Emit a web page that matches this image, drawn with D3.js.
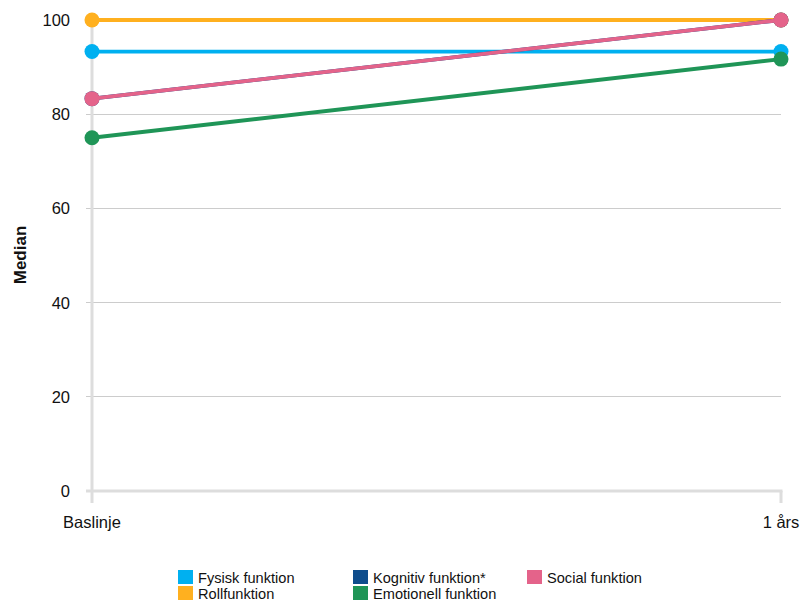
<!DOCTYPE html>
<html><head><meta charset="utf-8">
<script src="https://cdn.jsdelivr.net/npm/d3@7"></script>
<style>body{margin:0;background:#fff}svg{display:block;font-family:"Liberation Sans",Arial,sans-serif}</style>
</head><body><svg id="c" width="805" height="603"></svg>
<script>
const categories = ["Baslinje", "1 års"];
const seriesNames = ["Fysisk funktion", "Rollfunktion", "Kognitiv funktion*", "Emotionell funktion", "Social funktion"];
const seriesColors = ["#00b0f0", "#ffb01f", "#0e4d8c", "#1f9557", "#e4638a"];
const fysisk = [93.3, 93.3];
const roll = [100, 100];
const kognitiv = [83.3, 100];
const emotionell = [75, 91.7];
const social = [83.3, 100];
const yTicks = [0, 20, 40, 60, 80, 100];

const values = [fysisk, roll, kognitiv, emotionell, social];
const drawOrder = [0, 1, 2, 3, 4];

const svg = d3.select("#c");
const x = d3.scalePoint().domain(categories).range([92, 781]);
const y = d3.scaleLinear().domain([0, 100]).range([491, 20]);

// grid
svg.append("g").selectAll("line").data(yTicks.filter(d => d !== 0)).join("line")
  .attr("x1", 86).attr("x2", 781).attr("y1", d => y(d)).attr("y2", d => y(d))
  .attr("stroke", "#cccccc").attr("stroke-width", 1).attr("shape-rendering", "crispEdges");
// zero line
svg.append("line").attr("x1", 86).attr("x2", 782.5).attr("y1", y(0)).attr("y2", y(0))
  .attr("stroke", "#dddddd").attr("stroke-width", 3);
// x ticks
svg.append("g").selectAll("line").data(categories).join("line")
  .attr("x1", d => x(d)).attr("x2", d => x(d))
  .attr("y1", d => d === categories[0] ? y(100) : y(0)).attr("y2", y(0) + 12)
  .attr("stroke", "#dddddd").attr("stroke-width", 3);

// y labels
svg.append("g").selectAll("text").data(yTicks).join("text")
  .attr("x", 70).attr("y", d => y(d) + 6).attr("text-anchor", "end")
  .attr("font-size", 16.5).attr("fill", "#111").text(d => d);
// x labels
svg.append("g").selectAll("text").data(categories).join("text")
  .attr("x", d => x(d)).attr("y", 528).attr("text-anchor", "middle")
  .attr("font-size", 16.5).attr("fill", "#111").text(d => d);
// y title
svg.append("text").attr("transform", "translate(26,255) rotate(-90)")
  .attr("text-anchor", "middle").attr("font-size", 17).attr("font-weight", "bold")
  .attr("fill", "#111").text("Median");

const line = d3.line().x((d, i) => x(categories[i])).y(d => y(d));
drawOrder.forEach(si => {
  const g = svg.append("g");
  g.append("path").datum(values[si]).attr("d", line).attr("fill", "none")
    .attr("stroke", seriesColors[si]).attr("stroke-width", 3.8);
  g.selectAll("circle").data(values[si]).join("circle")
    .attr("cx", (d, i) => x(categories[i])).attr("cy", d => y(d)).attr("r", 7.5)
    .attr("fill", seriesColors[si]);
});

// legend
const legendPos = [[178, 570], [178, 586], [353, 570], [353, 586], [527, 570]];
const lg = svg.append("g");
seriesNames.forEach((n, i) => {
  const [lx, ly] = legendPos[i];
  lg.append("rect").attr("x", lx).attr("y", ly).attr("width", 15).attr("height", 14).attr("fill", seriesColors[i]);
  lg.append("text").attr("x", lx + 20).attr("y", ly + 13)
    .attr("font-size", 14.6).attr("fill", "#111").text(n);
});
</script></body></html>
